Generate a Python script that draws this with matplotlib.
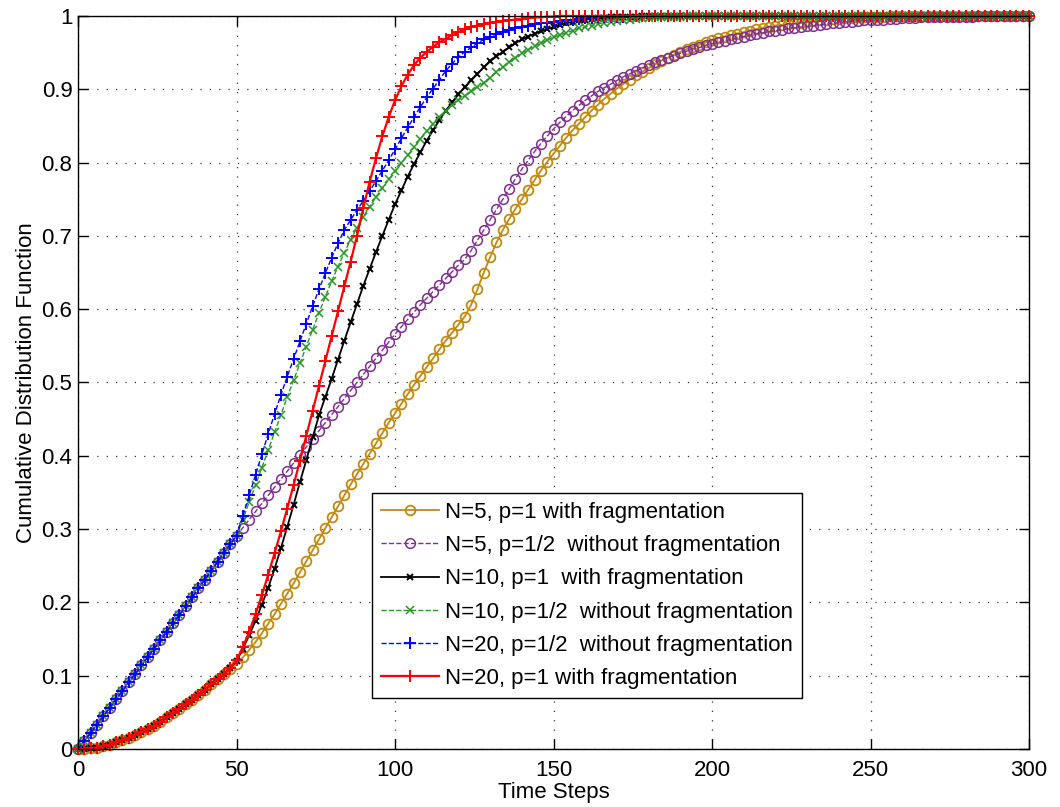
import matplotlib
matplotlib.use("Agg")
import matplotlib.pyplot as plt
import numpy as np

plt.rcParams['font.family'] = ['Liberation Sans', 'DejaVu Sans']

# time steps (every 2nd step)
t = np.arange(0, 301, 2)

# N=5, p=1 with fragmentation
n5_p1 = [0.000, 0.000, 0.001, 0.002, 0.004, 0.006, 0.009, 0.012, 0.015, 0.019,
         0.023, 0.027, 0.032, 0.037, 0.043, 0.049, 0.055, 0.061, 0.067, 0.074,
         0.081, 0.088, 0.095, 0.102, 0.109, 0.116, 0.125, 0.135, 0.146, 0.158,
         0.171, 0.184, 0.198, 0.212, 0.226, 0.241, 0.256, 0.271, 0.286, 0.301,
         0.316, 0.331, 0.346, 0.361, 0.375, 0.389, 0.403, 0.417, 0.431, 0.445,
         0.458, 0.471, 0.484, 0.497, 0.509, 0.521, 0.533, 0.545, 0.557, 0.568,
         0.579, 0.590, 0.606, 0.627, 0.650, 0.671, 0.691, 0.708, 0.723, 0.737,
         0.750, 0.763, 0.776, 0.789, 0.801, 0.812, 0.823, 0.834, 0.844, 0.853,
         0.862, 0.871, 0.879, 0.887, 0.894, 0.901, 0.907, 0.913, 0.919, 0.924,
         0.929, 0.934, 0.939, 0.943, 0.947, 0.951, 0.955, 0.958, 0.961, 0.964,
         0.967, 0.970, 0.972, 0.974, 0.976, 0.978, 0.980, 0.982, 0.984, 0.985,
         0.987, 0.988, 0.989, 0.990, 0.991, 0.992, 0.993, 0.994, 0.995, 0.996,
         0.996, 0.997, 0.997, 0.998, 0.998, 0.999, 0.999, 0.999, 1.0, 1.0] + [1.0] * 21

# N=5, p=1/2 without fragmentation
n5_p12 = [0.000, 0.011, 0.022, 0.033, 0.045, 0.056, 0.068, 0.079, 0.091, 0.102,
          0.114, 0.125, 0.137, 0.148, 0.160, 0.172, 0.183, 0.195, 0.207, 0.219,
          0.231, 0.243, 0.255, 0.267, 0.279, 0.291, 0.302, 0.313, 0.324, 0.335,
          0.346, 0.357, 0.368, 0.379, 0.390, 0.401, 0.412, 0.423, 0.434, 0.445,
          0.456, 0.467, 0.478, 0.489, 0.500, 0.511, 0.522, 0.533, 0.544, 0.555,
          0.566, 0.576, 0.586, 0.596, 0.606, 0.615, 0.624, 0.633, 0.642, 0.651,
          0.660, 0.668, 0.680, 0.694, 0.708, 0.722, 0.736, 0.750, 0.764, 0.778,
          0.791, 0.803, 0.815, 0.826, 0.836, 0.846, 0.855, 0.863, 0.871, 0.878,
          0.885, 0.891, 0.897, 0.902, 0.907, 0.912, 0.917, 0.921, 0.925, 0.929,
          0.933, 0.937, 0.940, 0.943, 0.946, 0.949, 0.952, 0.955, 0.957, 0.960,
          0.962, 0.964, 0.966, 0.968, 0.970, 0.972, 0.974, 0.976, 0.977, 0.979,
          0.980, 0.981, 0.983, 0.984, 0.985, 0.986, 0.987, 0.988, 0.989, 0.990,
          0.991, 0.992, 0.992, 0.993, 0.994, 0.994, 0.995, 0.995, 0.996, 0.996,
          0.997, 0.997, 0.997, 0.998, 0.998, 0.998, 0.998, 0.999, 0.999, 0.999,
          0.999, 0.999] + [1.0] * 9

# N=10, p=1 with fragmentation
n10_p1 = [0.000, 0.000, 0.001, 0.002, 0.004, 0.006, 0.009, 0.012, 0.015, 0.019,
          0.023, 0.027, 0.032, 0.037, 0.043, 0.049, 0.055, 0.061, 0.067, 0.074,
          0.081, 0.088, 0.095, 0.102, 0.110, 0.120, 0.137, 0.155, 0.175, 0.197,
          0.220, 0.246, 0.274, 0.303, 0.333, 0.364, 0.394, 0.425, 0.455, 0.480,
          0.505, 0.531, 0.557, 0.582, 0.607, 0.632, 0.655, 0.678, 0.700, 0.722,
          0.743, 0.762, 0.781, 0.798, 0.814, 0.830, 0.844, 0.858, 0.871, 0.882,
          0.893, 0.903, 0.912, 0.921, 0.930, 0.938, 0.945, 0.951, 0.957, 0.963,
          0.968, 0.972, 0.976, 0.979, 0.982, 0.985, 0.988, 0.990, 0.992, 0.994,
          0.995, 0.996, 0.997, 0.997, 0.998, 0.998, 0.999, 0.999, 0.999, 1.0] + [1.0] * 61

# N=10, p=1/2 without fragmentation
n10_p12 = [0.000, 0.011, 0.022, 0.033, 0.045, 0.056, 0.068, 0.079, 0.091, 0.102,
           0.114, 0.125, 0.137, 0.148, 0.160, 0.172, 0.183, 0.195, 0.207, 0.219,
           0.231, 0.243, 0.255, 0.267, 0.279, 0.291, 0.313, 0.337, 0.360, 0.384,
           0.408, 0.432, 0.456, 0.480, 0.503, 0.526, 0.549, 0.572, 0.595, 0.617,
           0.638, 0.658, 0.677, 0.695, 0.711, 0.726, 0.740, 0.753, 0.765, 0.777,
           0.788, 0.799, 0.810, 0.821, 0.832, 0.843, 0.853, 0.862, 0.870, 0.878,
           0.885, 0.891, 0.897, 0.903, 0.909, 0.916, 0.923, 0.930, 0.937, 0.943,
           0.949, 0.954, 0.959, 0.963, 0.967, 0.971, 0.974, 0.977, 0.980, 0.983,
           0.985, 0.987, 0.989, 0.991, 0.992, 0.993, 0.994, 0.995, 0.996, 0.997,
           0.997, 0.998, 0.998, 0.999, 0.999, 0.999, 1.0, 1.0, 1.0, 1.0] + [1.0] * 51

# N=20, p=1/2 without fragmentation
n20_p12 = [0.000, 0.011, 0.022, 0.033, 0.045, 0.056, 0.068, 0.079, 0.091, 0.102,
           0.114, 0.125, 0.137, 0.148, 0.160, 0.172, 0.183, 0.195, 0.207, 0.219,
           0.231, 0.243, 0.255, 0.267, 0.279, 0.291, 0.318, 0.346, 0.374, 0.402,
           0.430, 0.457, 0.483, 0.508, 0.532, 0.556, 0.580, 0.604, 0.627, 0.649,
           0.670, 0.690, 0.708, 0.722, 0.735, 0.748, 0.761, 0.775, 0.789, 0.803,
           0.818, 0.833, 0.848, 0.862, 0.876, 0.889, 0.901, 0.913, 0.925, 0.935,
           0.944, 0.951, 0.957, 0.963, 0.968, 0.972, 0.975, 0.978, 0.981, 0.983,
           0.985, 0.987, 0.989, 0.990, 0.991, 0.992, 0.993, 0.994, 0.995, 0.996,
           0.997, 0.997, 0.998, 0.998, 0.999, 0.999, 0.999, 1.0, 1.0, 1.0] + [1.0] * 61

# N=20, p=1 with fragmentation
n20_p1 = [0.000, 0.000, 0.001, 0.002, 0.004, 0.006, 0.009, 0.012, 0.015, 0.019,
          0.023, 0.027, 0.032, 0.037, 0.043, 0.049, 0.055, 0.061, 0.067, 0.074,
          0.081, 0.088, 0.095, 0.102, 0.110, 0.121, 0.139, 0.160, 0.184, 0.210,
          0.238, 0.267, 0.297, 0.328, 0.360, 0.393, 0.427, 0.461, 0.495, 0.529,
          0.563, 0.597, 0.631, 0.665, 0.700, 0.738, 0.774, 0.806, 0.836, 0.862,
          0.885, 0.904, 0.920, 0.933, 0.943, 0.951, 0.958, 0.964, 0.969, 0.974,
          0.978, 0.982, 0.985, 0.987, 0.989, 0.991, 0.992, 0.993, 0.994, 0.995,
          0.996, 0.997, 0.998, 0.998, 0.999, 0.999, 1.0, 1.0, 1.0, 1.0] + [1.0] * 71

labels = ["N=5, p=1 with fragmentation",
          "N=5, p=1/2  without fragmentation",
          "N=10, p=1  with fragmentation",
          "N=10, p=1/2  without fragmentation",
          "N=20, p=1/2  without fragmentation",
          "N=20, p=1 with fragmentation"]

fig = plt.figure(figsize=(10.6, 8.07), dpi=100)
ax = fig.add_axes([0.0736, 0.0719, 0.8972, 0.9083])

ax.plot(t, n5_p1, color='#C08A10', ls='-', lw=1.3, marker='o', ms=7,
        mfc='none', mew=1.3, label=labels[0], clip_on=False)
ax.plot(t, n5_p12, color='#7E2F8E', ls='--', lw=1.0, marker='o', ms=7,
        mfc='none', mew=1.1, label=labels[1], clip_on=False)
ax.plot(t, n10_p1, color='k', ls='-', lw=1.3, marker='x', ms=5,
        mew=1.4, label=labels[2], clip_on=False)
ax.plot(t, n10_p12, color='#2A962A', ls='--', lw=1.0, marker='x', ms=5.5,
        mew=1.1, label=labels[3], clip_on=False)
ax.plot(t, n20_p12, color='#0000FF', ls='--', lw=1.0, marker='+', ms=9,
        mew=1.4, label=labels[4], clip_on=False)
ax.plot(t, n20_p1, color='#FF0000', ls='-', lw=1.6, marker='+', ms=9,
        mew=1.4, label=labels[5], clip_on=False)

ax.set_xlim(0, 300)
ax.set_ylim(0, 1)
ax.set_xticks(np.arange(0, 301, 50))
ax.set_yticks(np.arange(0, 1.01, 0.1))
ax.set_yticklabels(['0', '0.1', '0.2', '0.3', '0.4', '0.5', '0.6', '0.7', '0.8', '0.9', '1'])
ax.tick_params(direction='in', top=True, right=True, length=7, width=1,
               labelsize=16, pad=4)
ax.tick_params(axis='x', pad=8)
ax.grid(True, ls=(0, (1, 6.5)), color='#333333', lw=0.9)
for s in ax.spines.values():
    s.set_linewidth(1.0)

ax.set_xlabel('Time Steps', fontsize=16, labelpad=0.5)
ax.set_ylabel('Cumulative Distribution Function', fontsize=16, labelpad=3)

leg = ax.legend(loc='lower left', bbox_to_anchor=(0.309, 0.0696), fontsize=16,
                frameon=True, fancybox=False, edgecolor='k', framealpha=1,
                borderaxespad=0, handlelength=2.6, handletextpad=0.3,
                labelspacing=0.55, borderpad=0.4)
leg.get_frame().set_linewidth(1.0)

fig.savefig('out.png', dpi=100)
